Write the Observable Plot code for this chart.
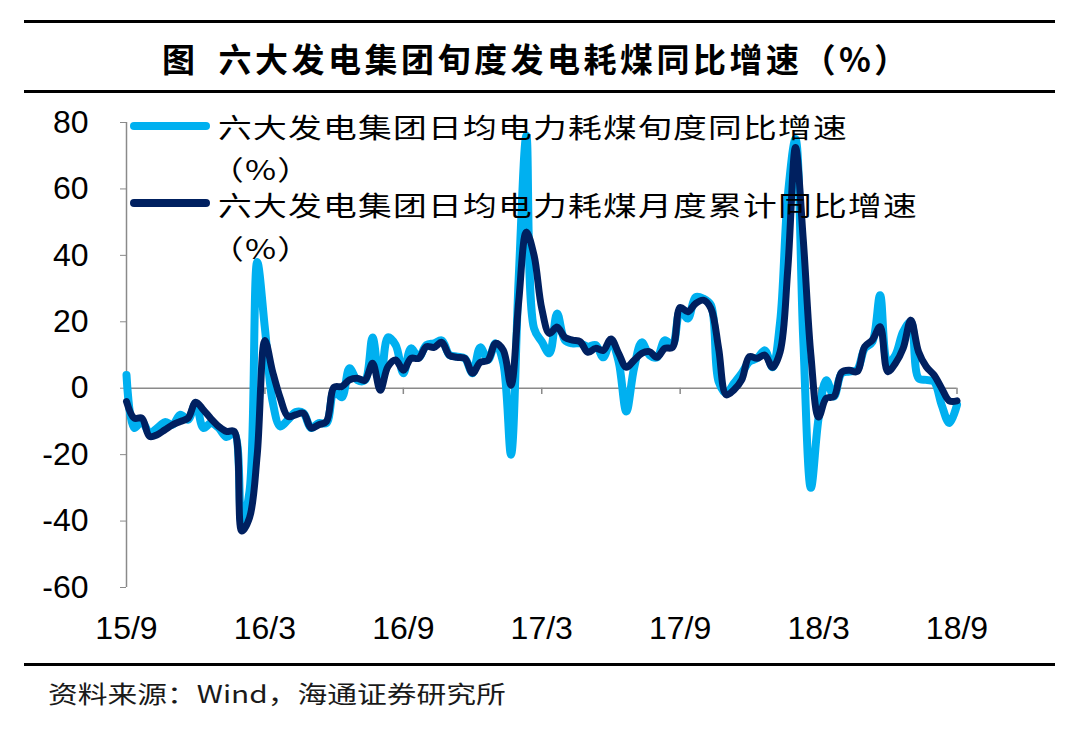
<!DOCTYPE html>
<html><head><meta charset="utf-8">
<script src="https://cdn.jsdelivr.net/npm/d3@7"></script>
<script src="https://cdn.jsdelivr.net/npm/@observablehq/plot@0.6"></script>
<style>
body{margin:0;background:#fff;}
#wrap{position:relative;width:1080px;height:731px;overflow:hidden;font-family:"Noto Sans CJK SC",sans-serif;color:#000;}
.hr{position:absolute;left:24px;width:1031px;height:3px;background:#000;}
#title{position:absolute;top:37px;left:162px;font-weight:bold;font-size:33px;line-height:42px;letter-spacing:3.5px;white-space:nowrap;}
#title .gap{display:inline-block;width:20px;}
#chart{position:absolute;left:0;top:0;}
.lg{position:absolute;height:8px;border-radius:4px;left:130px;width:80px;}
.lt{position:absolute;left:218px;font-size:27px;line-height:34px;letter-spacing:1px;transform:scaleX(1.25);transform-origin:left center;white-space:nowrap;}
.lt.pct{left:210px;}
#src{position:absolute;left:48px;top:677px;font-size:24px;line-height:32px;transform:scaleX(1.24);transform-origin:left center;white-space:nowrap;color:#1a1a1a;}
</style>
</head><body>
<div id="wrap">
  <div class="hr" style="top:20px"></div>
  <div id="title">图<span class="gap"></span>六大发电集团旬度发电耗煤同比增速（%）</div>
  <div class="hr" style="top:90px"></div>
  <div id="chart"></div>
  <div class="hr" style="top:663px"></div>
  <div id="src">资料来源：Wind，海通证券研究所</div>
</div>
<script>
// Series names
const seriesNames = ["六大发电集团日均电力耗煤旬度同比增速（%）", "六大发电集团日均电力耗煤月度累计同比增速（%）"];
// x tick labels (every 6 months, on dekad index)
const tickLabels = ["15/9","16/3","16/9","17/3","17/9","18/3","18/9"];
const tickIndex = [0, 18, 36, 54, 72, 90, 108];
const yTicks = [-60, -40, -20, 0, 20, 40, 60, 80];
// 旬度同比增速 (%) — one value per dekad from 2015-09 上旬
const dekadValues = [
  4, -12, -10, -13.5, -12, -10.2, -11, -8, -9.5, -4.5,
  -12, -10.5, -12, -14.7, -13.5, -41, -31, 38, 18, -4,
  -11.5, -9.5, -7.2, -7.5, -12, -10.5, -10.5, -0.8, -2.7, 6,
  2.5, 2.4, 15.3, 0.3, 15.3, 13, 4.5, 12, 9.3, 13,
  13.5, 14.4, 10, 9.5, 9, 4.5, 12.3, 8.5, 13.5, 7.5,
  -20, 33, 76, 18, 14, 10.5, 22.5, 14.5, 13.5, 13.5,
  12.5, 13, 9.3, 14.4, 8, -7, 6, 13.8, 10, 9.3,
  14.4, 13, 23.4, 21, 27.4, 27, 25, 2, -1.5, 1.5,
  4.5, 8, 9, 11.4, 6.3, 20, 58, 75, 15, -30,
  -9, 2.4, -2.5, 4.5, 5, 5.5, 12, 14, 28, 7.5,
  10, 17, 20, 3, 2.5, 2, -5, -10.5, -5
];
// 月度累计同比增速 (%)
const cumulativeValues = [
  -4, -9, -9, -14.5, -14, -12.5, -11, -10, -9, -4.2,
  -6.5, -9.2, -11.5, -13, -13, -43, -39, -20, 14.4, 5,
  -3, -8.5, -8, -7.5, -12, -11, -10, 0.3, 0.5, 2.5,
  3, 2.4, 7.5, -0.6, 6.5, 8.5, 5.4, 9, 9, 12.5,
  12.3, 13.8, 9.9, 9.3, 9, 4.5, 7.8, 8.4, 13.5, 11.4,
  0.9, 26, 47, 40, 24, 16.5, 18.4, 15.3, 14.5, 14,
  10.8, 12, 11.4, 14.8, 10.5, 6.3, 8.4, 10.5, 11, 9.3,
  12, 12.3, 24.3, 23, 25.5, 26.5, 24, 12, -2, -0.5,
  2.5, 9.5, 9, 10, 6.3, 11, 36, 72.5, 45, 10,
  -8.7, -3, -2.5, 4.8, 5.4, 5, 12.5, 14.5, 18.5, 5,
  7.5, 12, 20.5, 11, 6.5, 4, 0, -3.8, -3.8
];
const colors = ["#00B0F0", "#002060"];

const lb = dekadValues.map((v, i) => ({i, v}));
const dk = cumulativeValues.map((v, i) => ({i, v}));

const chart = Plot.plot({
  width: 1080, height: 660,
  marginLeft: 126, marginRight: 123.5, marginTop: 122, marginBottom: 73,
  style: {fontFamily: "'Liberation Sans', Arial, sans-serif", fontSize: "32px", background: "transparent", overflow: "visible"},
  x: {type: "linear", domain: [0, 108], label: null},
  y: {domain: [-60, 80], label: null},
  marks: [
    Plot.ruleY([0], {stroke: "#8a8a8a", strokeWidth: 1.5}),
    Plot.ruleX(tickIndex, {y1: 0, y2: -1.9, stroke: "#8a8a8a", strokeWidth: 1.5}),
    Plot.ruleX([0], {y1: -60, y2: 80, stroke: "#8a8a8a", strokeWidth: 1.5}),
    Plot.axisY({ticks: yTicks, tickSize: 6, tickPadding: 32, tickFormat: d => String(d), stroke: "#8a8a8a", fill: "#000", label: null}),
    Plot.axisX({ticks: tickIndex, tickSize: 0, tickPadding: 29, tickFormat: d => tickLabels[tickIndex.indexOf(d)], fill: "#000", label: null}),
    Plot.line(lb, {x: "i", y: "v", stroke: colors[0], strokeWidth: 8, curve: "catmull-rom"}),
    Plot.line(dk, {x: "i", y: "v", stroke: colors[1], strokeWidth: 7, curve: "catmull-rom"})
  ]
});
document.getElementById("chart").appendChild(chart);

// Legend (HTML overlay)
const wrap = document.getElementById("wrap");
const legendRows = [
  {name: seriesNames[0], color: colors[0], lineTop: 122, textTop: 110, pctTop: 152},
  {name: seriesNames[1], color: colors[1], lineTop: 199, textTop: 188, pctTop: 231}
];
legendRows.forEach(r => {
  const ln = document.createElement("div");
  ln.className = "lg"; ln.style.top = r.lineTop + "px"; ln.style.background = r.color;
  wrap.appendChild(ln);
  const main = r.name.replace("（%）", "");
  const t1 = document.createElement("div");
  t1.className = "lt"; t1.style.top = r.textTop + "px"; t1.textContent = main;
  wrap.appendChild(t1);
  const t2 = document.createElement("div");
  t2.className = "lt pct"; t2.style.top = r.pctTop + "px"; t2.textContent = "（%）";
  wrap.appendChild(t2);
});
</script>
</body></html>
